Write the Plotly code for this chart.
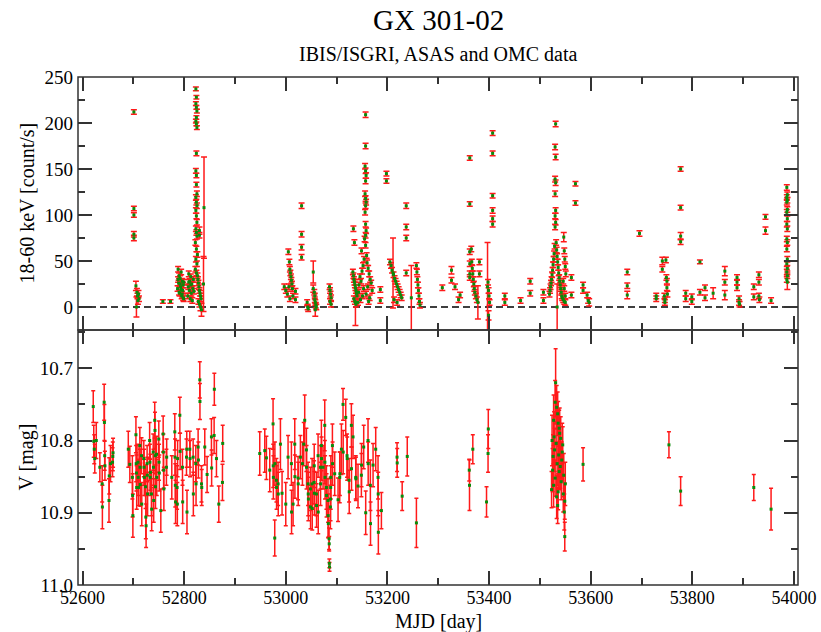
import plotly.graph_objects as go

# ---------------- IBIS/ISGRI 18-60 keV light curve ----------------
hx_mjd = [
    52701, 52701, 52701, 52701, 52701,
    52705, 52706, 52707, 52708, 52709, 52710, 52711,
    52758, 52773,
    52787, 52788, 52789, 52790, 52791, 52792, 52793, 52794, 52795, 52796,
    52797, 52798, 52799, 52788, 52790, 52792, 52794, 52796, 52798, 52799,
    52807, 52808, 52809, 52810, 52811, 52812, 52813, 52814, 52815, 52816,
    52817, 52818, 52819, 52809, 52813,
    52823, 52824, 52823, 52824, 52825, 52824, 52823, 52824, 52825, 52824,
    52823, 52824, 52824, 52825, 52823, 52824, 52825, 52823, 52824, 52825,
    52823, 52824, 52825, 52822, 52824, 52826, 52823, 52825, 52822, 52824, 52826,
    52830, 52830, 52827, 52828, 52829, 52830, 52831, 52832, 52833, 52828, 52830, 52832, 52834,
    52839, 52838,
    52997, 53000, 53003,
    53005, 53007, 53008, 53009, 53010, 53011, 53012, 53006, 53013, 53014, 53008,
    53019, 53019,
    53031, 53031, 53031, 53031,
    53042, 53043, 53044,
    53054, 53054,
    53056, 53057, 53057, 53058, 53059, 53060, 53058,
    53086, 53087, 53088, 53089, 53087, 53089,
    53133, 53135, 53132, 53133, 53134, 53135, 53136, 53137, 53138, 53139,
    53140, 53134, 53136, 53138, 53137,
    53157, 53157, 53156, 53157, 53158, 53157, 53156, 53157, 53158, 53157,
    53156, 53157, 53158, 53157, 53155, 53157, 53149, 53159, 53154, 53160,
    53152, 53162, 53150, 53164, 53146, 53166, 53148, 53168, 53144, 53161,
    53153, 53170, 53143, 53158, 53151, 53165, 53147, 53163, 53142,
    53186, 53186,
    53198, 53198,
    53211,
    53205, 53207, 53209, 53212, 53214, 53216, 53218, 53220, 53222, 53224, 53226, 53228, 53213, 53219,
    53237, 53237, 53237, 53237,
    53247,
    53257, 53258, 53259, 53260, 53261, 53262, 53263, 53264,
    53308, 53326, 53326, 53333, 53340, 53343,
    53362, 53362, 53362, 53362, 53362, 53362,
    53365, 53366, 53367, 53368, 53369, 53370, 53371, 53372, 53374, 53376, 53378,
    53381, 53381,
    53397, 53398, 53399, 53400, 53401, 53399,
    53407, 53407, 53407, 53407, 53407, 53407,
    53431, 53431, 53462, 53481, 53481, 53507, 53507,
    53531, 53530, 53531, 53530, 53531, 53530, 53531, 53530, 53531, 53530,
    53532, 53529, 53533, 53528, 53534, 53527, 53535, 53526, 53536, 53525,
    53537, 53524, 53538, 53523, 53539, 53522, 53540, 53521, 53541, 53520,
    53542, 53519, 53543, 53544, 53546, 53548, 53550, 53534,
    53547, 53548, 53549, 53550, 53551, 53546, 53548, 53550,
    53562, 53562, 53570, 53570, 53585, 53585, 53593, 53595, 53597,
    53672, 53672, 53672, 53696, 53729, 53729, 53741, 53741,
    53745, 53746, 53746, 53748, 53749, 53750, 53750, 53751,
    53777, 53777, 53777, 53777,
    53787, 53787, 53799, 53799, 53815, 53815, 53825, 53825, 53841,
    53864, 53864, 53864, 53888, 53888, 53888, 53892, 53892, 53893,
    53921, 53921, 53931, 53931, 53931, 53932, 53944, 53944, 53955,
    53986, 53987, 53986, 53987, 53986, 53987, 53986, 53987, 53986, 53987,
    53986, 53987, 53986, 53987, 53986, 53987, 53986, 53987, 53986, 53987,
]

hx_rate = [
    212, 107, 100, 79, 75,
    23, 0, 16, 12, 7, 14, 9,
    6, 6,
    20, 41, 26, 34, 15, 31, 22, 38, 12, 28,
    18, 24, 9, 30, 16, 25, 19, 14, 10, 27,
    12, 22, 36, 18, 28, 9, 33, 15, 25, 7,
    20, 30, 17, 27, 24,
    237, 228, 221, 217, 213, 206, 202, 199, 195, 167,
    148, 143, 133, 123, 119, 114, 110, 105, 99, 92,
    85, 81, 77, 70, 63, 57, 52, 47, 41, 37, 34,
    83, 78, 30, 26, 22, 18, 15, 12, 9, 6, 3, 0, -3,
    108, 25,
    22, 18, 14,
    60, 49, 41, 37, 33, 29, 25, 22, 20, 12, 9,
    17, 8,
    110, 79, 65, 54,
    5, 0, -2,
    38, 20,
    16, 12, 8, 5, 2, 0, -3,
    22, 18, 14, 10, 6, 3,
    85, 70, 38, 34, 30, 27, 24, 21, 18, 15,
    12, 9, 6, 3, 5,
    209, 175, 153, 148, 143, 137, 123, 118, 114, 110,
    103, 90, 83, 78, 74, 67, 61, 56, 52, 48,
    45, 42, 39, 36, 33, 30, 28, 26, 24, 22,
    20, 18, 16, 14, 12, 10, 8, 6, 5,
    19, 7,
    145, 137,
    37,
    49, 45, 40, 35, 31, 28, 25, 22, 19, 16, 13, 10, 8, 5,
    110, 87, 75, 37,
    10,
    45, 38, 30, 24, 18, 12, 6, 2,
    21, 40, 29, 22, 8, 13,
    162, 112, 60, 47, 36, 32,
    63, 49, 42, 36, 30, 25, 20, 16, 12, 8, 5,
    49, 36,
    22, 27, 18, 12, 5, -9,
    189, 167, 121, 105, 96, 90,
    12, 5, 7, 28, 15, 16, 7,
    199, 174, 163, 139, 135, 123, 105, 99, 92, 87,
    70, 66, 62, 58, 55, 52, 49, 46, 43, 40,
    37, 35, 32, 30, 28, 26, 24, 22, 20, 18,
    16, 14, 12, 10, 8, 6, 5, 0,
    76, 61, 52, 44, 36, 28, 20, 12,
    32, 13, 134, 113, 24, 18, 13, 7, 5,
    38, 23, 13, 80, 12, 9, 50, 41,
    12, 8, 5, 51, 32, 28, 21, 14,
    150, 108, 77, 71,
    15, 9, 11, 6, 49, 16, 21, 10, 15,
    39, 27, 13, 32, 27, 21, 9, 5, 3,
    22, 11, 35, 27, 12, 8, 98, 83, 7,
    130, 122, 119, 116, 114, 106, 103, 96, 90, 85,
    74, 70, 63, 52, 47, 42, 38, 34, 30, 27,
]

hx_err = [
    2.5, 2.5, 2.5, 3, 3,
    5, 11, 4, 3, 4, 4, 3,
    2, 2,
    3, 3, 3, 3, 3, 3, 3, 3, 3, 3,
    3, 3, 3, 3, 3, 3, 3, 3, 3, 3,
    3, 3, 3, 3, 3, 3, 3, 3, 3, 3,
    3, 3, 3, 3, 3,
    2, 2, 2, 2, 2, 2, 2, 2, 2, 2.5,
    2.5, 2.5, 2.5, 3, 3, 3, 3, 3, 3, 3,
    3, 3, 3, 3, 3, 3, 3, 3, 3, 3, 3,
    4, 3, 3, 3, 3, 3, 3, 3, 3, 3, 3, 4, 7,
    55, 30,
    3, 3, 3,
    3, 3, 3, 3, 3, 3, 3, 3, 3, 3, 3,
    3, 3,
    3, 3, 3, 3,
    3, 3, 3,
    12, 4,
    3, 3, 3, 3, 3, 3, 7,
    3, 3, 3, 3, 3, 3,
    3, 3, 3, 3, 3, 3, 3, 3, 3, 3,
    3, 3, 3, 3, 25,
    3, 3, 3, 3, 3, 3, 3, 3, 3, 3,
    3, 3, 3, 3, 3, 3, 3, 3, 3, 3,
    3, 3, 3, 3, 3, 3, 3, 3, 3, 3,
    3, 3, 3, 3, 3, 3, 3, 3, 3,
    3, 3,
    2.5, 2.5,
    38,
    3, 3, 3, 3, 3, 3, 3, 3, 3, 3, 3, 3, 3, 3,
    3, 3, 3, 3,
    35,
    3, 3, 3, 3, 3, 3, 3, 3,
    3, 4, 3, 3, 3, 3,
    2.5, 2.5, 3, 3, 3, 3,
    3, 3, 3, 3, 3, 3, 3, 3, 3, 3, 18,
    3, 3,
    48, 3, 3, 3, 3, 5,
    2.5, 2.5, 2.5, 3, 3, 3,
    3, 3, 3, 3, 3, 3, 3,
    3, 3, 3, 3, 3, 3, 3, 3, 3, 3,
    3, 3, 3, 3, 3, 3, 3, 3, 3, 3,
    3, 3, 3, 3, 3, 3, 3, 3, 3, 3,
    3, 3, 3, 3, 3, 3, 3, 25,
    5, 3, 3, 3, 3, 3, 3, 3,
    3, 3, 2.5, 2.5, 3, 3, 3, 3, 4,
    3, 3, 4, 3, 3, 3, 4, 3,
    3, 3, 3, 3, 3, 3, 3, 3,
    2.5, 2.5, 4, 3,
    3, 3, 3, 3, 2, 3, 3, 3, 6,
    5, 3, 5, 3, 3, 3, 3, 3, 3,
    3, 3, 3, 3, 3, 3, 2.5, 4, 3,
    3, 3, 3, 3, 3, 3, 3, 3, 3, 3,
    3, 3, 3, 3, 3, 3, 3, 3, 3, 8,
]

# ---------------- ASAS / OMC V-band light curve ----------------
v_mjd = [
    52621, 52622, 52623, 52624, 52627, 52634, 52638.6, 52639, 52642.5, 52643,
    52643.5, 52644, 52652, 52652.5, 52655, 52659, 52659.5, 52660,
    52690, 52693, 52698, 52698.5, 52699, 52705, 52705.5, 52706, 52706.5, 52709,
    52709.5, 52710, 52712.7, 52713, 52713.5, 52716, 52716.5, 52720.5, 52721, 52721.5,
    52724, 52724.5, 52725, 52727, 52727.5, 52728, 52732, 52732.5, 52733, 52733.5,
    52735.6, 52736, 52739, 52739.5, 52740, 52742, 52742.5, 52743, 52743.5, 52745.5,
    52746, 52750, 52750.5, 52751, 52754, 52758.6, 52759, 52759.5, 52760, 52765,
    52765.5, 52775.6, 52781.5, 52782, 52782.5, 52783, 52786, 52786.5, 52787, 52791.4,
    52792, 52796.6, 52797, 52804.5, 52805, 52805.5, 52811, 52811.5, 52817.6, 52818,
    52822.8, 52823.3, 52827.4, 52828, 52830.7, 52831, 52834, 52834.5, 52840.5, 52845.1,
    52853.6, 52854, 52858.9, 52859.3, 52863.5, 52868.1, 52875.3, 52875.8,
    52948.7, 52958.6, 52961.8, 52968.4, 52974.9, 52975.2, 52975.5, 52978.2, 52978.5, 52981.5,
    52981.8, 52984.8, 52985.1, 52989.4, 52992.6, 52999.9, 53004.4, 53011, 53011.3, 53014.3,
    53017.6, 53017.9, 53024.1, 53024.4, 53028.7, 53032.7, 53035.3, 53037.2, 53040.5, 53040.8,
    53043.8, 53044.1, 53044.4, 53048.4, 53048.7, 53051.7, 53052, 53055.6, 53055.9, 53056.2,
    53060.2, 53060.5, 53063.5, 53063.8, 53068.1, 53068.4, 53070, 53070.3, 53073.3, 53076.6,
    53076.9, 53077.2, 53079.9, 53080.2, 53083.1, 53083.4, 53083.7, 53085.1, 53085.4, 53085.7,
    53086, 53087.7, 53088, 53088.3, 53088.6, 53091.7, 53092, 53096.2, 53102.8, 53106.1,
    53106.4, 53109.4, 53112.6, 53112.9, 53117.9, 53120.5, 53120.8, 53124.5, 53124.8, 53129,
    53129.3, 53132.3, 53137.6, 53137.9, 53142.1, 53148.7, 53149, 53153.3, 53157.2, 53161.8,
    53162.1, 53166.4, 53166.7, 53171.7, 53176.9, 53181.5, 53181.8, 53182.1, 53188.1, 53218.9,
    53219.2,
    53229, 53239, 53257, 53361, 53361.5, 53368, 53395, 53398, 53398.5,
    53531, 53530, 53533, 53535, 53527, 53536, 53538, 53528, 53541, 53524,
    53532, 53545, 53529, 53537, 53526, 53543, 53534, 53540, 53525, 53538,
    53547, 53530, 53542, 53527, 53536, 53546, 53533, 53549, 53523, 53548,
    53549, 53544, 53539, 53550, 53535,
    53585, 53754, 53777, 53921, 53955,
]

v_mag = [
    10.753, 10.801, 10.812, 10.825, 10.800, 10.837, 10.860, 10.892, 10.747, 10.775,
    10.821, 10.835, 10.883, 10.849, 10.832, 10.830, 10.822, 10.817,
    10.812, 10.833, 10.851, 10.876, 10.904, 10.792, 10.832, 10.845, 10.865, 10.830,
    10.851, 10.865, 10.807, 10.837, 10.861, 10.821, 10.888, 10.825, 10.837, 10.851,
    10.864, 10.906, 10.918, 10.832, 10.848, 10.874, 10.800, 10.830, 10.851, 10.844,
    10.874, 10.895, 10.816, 10.837, 10.883, 10.772, 10.786, 10.821, 10.864, 10.819,
    10.851, 10.798, 10.830, 10.845, 10.897, 10.791, 10.816, 10.841, 10.867, 10.837,
    10.823, 10.851, 10.788, 10.823, 10.862, 10.885, 10.865, 10.888, 10.825, 10.765,
    10.815, 10.837, 10.885, 10.823, 10.812, 10.899, 10.812, 10.825, 10.823, 10.874,
    10.832, 10.860, 10.809, 10.827, 10.716, 10.746, 10.860, 10.865, 10.809, 10.847,
    10.795, 10.838, 10.793, 10.729, 10.825, 10.888, 10.858, 10.804,
    10.818, 10.814, 10.824, 10.841, 10.777, 10.835, 10.851, 10.935, 10.832, 10.855,
    10.865, 10.860, 10.874, 10.805, 10.873, 10.888, 10.823, 10.832, 10.899, 10.888,
    10.805, 10.850, 10.852, 10.860, 10.823, 10.832, 10.805, 10.772, 10.813, 10.837,
    10.860, 10.874, 10.881, 10.867, 10.892, 10.860, 10.894, 10.858, 10.835, 10.873,
    10.874, 10.890, 10.821, 10.899, 10.837, 10.860, 10.807, 10.825, 10.837, 10.779,
    10.830, 10.851, 10.865, 10.876, 10.883, 10.904, 10.915, 10.936, 10.943, 10.970,
    10.975, 10.892, 10.881, 10.865, 10.851, 10.807, 10.832, 10.846, 10.882, 10.851,
    10.846, 10.812, 10.750, 10.816, 10.768, 10.821, 10.825, 10.855, 10.871, 10.779,
    10.839, 10.795, 10.851, 10.853, 10.863, 10.848, 10.834, 10.809, 10.900, 10.800,
    10.832, 10.862, 10.915, 10.834, 10.812, 10.851, 10.874, 10.927, 10.897, 10.823,
    10.831,
    10.877, 10.822, 10.914, 10.841, 10.862, 10.812, 10.885, 10.818, 10.784,
    10.720, 10.747, 10.754, 10.763, 10.772, 10.776, 10.783, 10.795, 10.797, 10.800,
    10.804, 10.806, 10.813, 10.820, 10.822, 10.827, 10.832, 10.836, 10.841, 10.843,
    10.848, 10.852, 10.857, 10.862, 10.871, 10.874, 10.878, 10.884, 10.868, 10.899,
    10.933, 10.816, 10.790, 10.860, 10.890,
    10.833, 10.806, 10.870, 10.865, 10.895,
]

v_err = [
    0.022, 0.022, 0.02, 0.02, 0.025, 0.02, 0.025, 0.03, 0.025, 0.025,
    0.02, 0.02, 0.03, 0.025, 0.025, 0.02, 0.02, 0.02,
    0.025, 0.025, 0.03, 0.03, 0.03, 0.025, 0.025, 0.025, 0.03, 0.025,
    0.025, 0.025, 0.025, 0.025, 0.03, 0.025, 0.03, 0.025, 0.025, 0.025,
    0.03, 0.03, 0.03, 0.025, 0.025, 0.03, 0.025, 0.025, 0.025, 0.025,
    0.03, 0.03, 0.025, 0.025, 0.03, 0.025, 0.025, 0.025, 0.03, 0.025,
    0.025, 0.025, 0.025, 0.025, 0.03, 0.025, 0.025, 0.025, 0.03, 0.025,
    0.025, 0.03, 0.025, 0.025, 0.03, 0.03, 0.03, 0.03, 0.025, 0.025,
    0.025, 0.025, 0.03, 0.025, 0.025, 0.03, 0.025, 0.025, 0.025, 0.03,
    0.025, 0.03, 0.025, 0.025, 0.025, 0.025, 0.025, 0.025, 0.025, 0.025,
    0.025, 0.025, 0.025, 0.022, 0.025, 0.025, 0.025, 0.025,
    0.03, 0.03, 0.03, 0.03, 0.035, 0.03, 0.03, 0.025, 0.03, 0.03,
    0.03, 0.03, 0.03, 0.035, 0.03, 0.03, 0.03, 0.03, 0.03, 0.03,
    0.035, 0.03, 0.03, 0.03, 0.03, 0.03, 0.03, 0.035, 0.03, 0.03,
    0.03, 0.03, 0.03, 0.03, 0.03, 0.035, 0.03, 0.03, 0.03, 0.03,
    0.03, 0.03, 0.03, 0.03, 0.03, 0.03, 0.035, 0.03, 0.03, 0.035,
    0.03, 0.03, 0.03, 0.03, 0.03, 0.03, 0.02, 0.015, 0.01, 0.006,
    0.006, 0.03, 0.03, 0.03, 0.03, 0.03, 0.03, 0.03, 0.03, 0.035,
    0.03, 0.035, 0.022, 0.03, 0.025, 0.03, 0.03, 0.03, 0.03, 0.03,
    0.03, 0.03, 0.03, 0.03, 0.03, 0.03, 0.03, 0.03, 0.03, 0.03,
    0.03, 0.035, 0.03, 0.03, 0.03, 0.03, 0.03, 0.03, 0.025, 0.02,
    0.02,
    0.02, 0.027, 0.034, 0.015, 0.035, 0.02, 0.021, 0.026, 0.027,
    0.047, 0.03, 0.03, 0.03, 0.035, 0.03, 0.025, 0.035, 0.03, 0.035,
    0.03, 0.025, 0.03, 0.03, 0.03, 0.025, 0.03, 0.03, 0.03, 0.025,
    0.03, 0.025, 0.025, 0.03, 0.025, 0.025, 0.03, 0.025, 0.025, 0.025,
    0.02, 0.04, 0.035, 0.03, 0.025,
    0.023, 0.018, 0.02, 0.018, 0.029,
]

for name, a, b, c in (("hx", hx_mjd, hx_rate, hx_err), ("v", v_mjd, v_mag, v_err)):
    if not (len(a) == len(b) == len(c)):
        raise ValueError(f"{name}: {len(a)} {len(b)} {len(c)}")

SERIF = "Liberation Serif, Times New Roman, serif"
AXIS_COLOR = "#333333"
ERR_RED = "#ff1a1a"
PT_GREEN = "#0a8a0a"

fig = go.Figure()

fig.add_trace(go.Scatter(
    x=hx_mjd, y=hx_rate, mode="markers", xaxis="x2", yaxis="y",
    marker=dict(color=PT_GREEN, size=3, symbol="square"),
    error_y=dict(type="data", array=hx_err, color=ERR_RED, thickness=1.5, width=3),
    showlegend=False,
))

fig.add_trace(go.Scatter(
    x=v_mjd, y=v_mag, mode="markers", xaxis="x", yaxis="y2",
    marker=dict(color=PT_GREEN, size=3, symbol="square"),
    error_y=dict(type="data", array=v_err, color=ERR_RED, thickness=1.5, width=2),
    showlegend=False,
))

common = dict(
    showline=False, ticks="inside", tickcolor=AXIS_COLOR, tickwidth=1.5, ticklen=14,
    showgrid=False, zeroline=False, automargin=False,
)
x_font = dict(family=SERIF, size=18, color="black")
y_font = dict(family=SERIF, size=19, color="black")

def minor(dtick, tick0):
    return dict(dtick=dtick, tick0=tick0, ticks="inside", ticklen=7,
                tickcolor=AXIS_COLOR, tickwidth=1.5, showgrid=False)

split = (585 - 330) / 508

fig.update_layout(
    width=821, height=632,
    margin=dict(l=78, r=23, t=77, b=47),
    paper_bgcolor="white", plot_bgcolor="white",
    font=dict(family=SERIF, color="black"),
    xaxis=dict(domain=[0, 1], anchor="y2", range=[52591, 54008], mirror="ticks",
               tick0=52600, dtick=200, tickformat="d", tickfont=x_font,
               minor=minor(100, 52600), **common),
    xaxis2=dict(domain=[0, 1], anchor="y", matches="x", mirror="ticks", showticklabels=False,
                tick0=52600, dtick=200, tickfont=x_font, minor=minor(100, 52600), **common),
    yaxis=dict(domain=[split, 1], anchor="x2", range=[-25, 250], mirror="ticks",
               tick0=0, dtick=50, tickfont=y_font, ticklabelstandoff=4,
               minor=minor(25, 0), **common),
    yaxis2=dict(domain=[0, split], anchor="x", range=[11.0, 10.647], mirror="ticks",
                tick0=10.7, dtick=0.1, tickformat=".1f", tickfont=y_font,
                ticklabelstandoff=4, minor=minor(0.05, 10.65), **common),
)

# zero level of the hard X-ray panel, and the frames of both panels
frame = dict(color=AXIS_COLOR, width=1.5)
fig.add_shape(type="line", xref="x2 domain", yref="y", x0=0, x1=1, y0=0, y1=0,
              line=dict(color="black", width=1.5, dash="7px,4px"), layer="below")
fig.add_shape(type="rect", xref="x2 domain", yref="y domain", x0=0, x1=1, y0=0, y1=1,
              line=frame, layer="above")
fig.add_shape(type="rect", xref="x domain", yref="y2 domain", x0=0, x1=1, y0=0, y1=1,
              line=frame, layer="above")

def px_x(px):
    return (px - 78) / 720

def px_y(py):
    return (585 - py) / 508

annotations = [
    dict(text="GX 301-02", x=0.5, y=px_y(20), font=dict(size=29)),
    dict(text="IBIS/ISGRI, ASAS and OMC data", x=0.5, y=px_y(54), font=dict(size=20)),
    dict(text="18-60 keV [count/s]", x=px_x(26), y=px_y(203.5), font=dict(size=20), textangle=-90),
    dict(text="V [mag]", x=px_x(26), y=px_y(457.5), font=dict(size=20), textangle=-90),
    dict(text="MJD [day]", x=0.5, y=px_y(621), font=dict(size=20)),
]
for a in annotations:
    a.update(xref="paper", yref="paper", showarrow=False, xanchor="center", yanchor="middle")
    a["font"].update(family=SERIF, color="black")
fig.update_layout(annotations=annotations)

fig.write_html("out.html")
